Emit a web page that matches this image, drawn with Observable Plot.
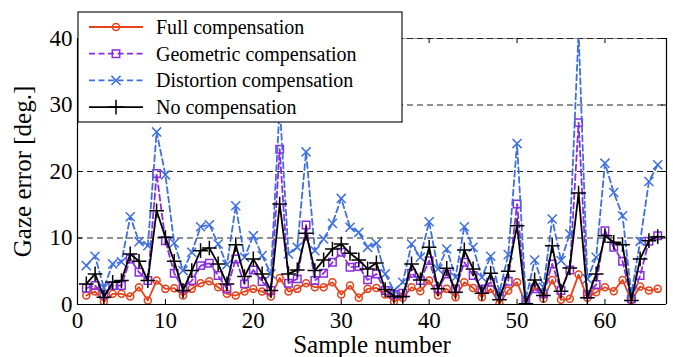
<!DOCTYPE html>
<html><head><meta charset="utf-8">
<script src="https://cdn.jsdelivr.net/npm/d3@7"></script>
<script src="https://cdn.jsdelivr.net/npm/@observablehq/plot@0.6"></script>
<style>
body{margin:0;background:#fff;}
#chart{position:relative;width:673px;height:357px;}
#chart svg text{font-family:"Liberation Serif","Times New Roman",serif;}
</style>
</head><body><div id="chart"></div>
<script>
const samples = d3.range(1, 67);
const full = [1.35,1.95,0.45,1.6,1.6,1.2,2.6,0.6,3.6,2.35,2.45,1.35,2.35,3.2,3.5,2.6,1.6,1.35,1.95,2.35,1.95,1.2,4.0,1.95,2.35,3.2,2.6,2.6,3.35,1.5,2.85,1.0,2.35,2.5,1.5,0.45,1.0,2.6,2.0,3.6,1.35,2.35,1.1,3.35,2.5,1.1,2.35,0.1,2.1,3.35,0.1,2.7,0.85,3.7,0.7,0.85,4.5,1.0,1.85,2.6,2.0,3.7,0.6,2.7,2.1,2.35];
const geometric = [2.45,2.85,1.5,2.85,2.85,6.85,4.85,3.6,19.7,9.6,4.7,2.45,3.6,5.85,6.2,4.35,2.35,6.85,3.1,5.2,3.45,2.1,23.35,3.2,3.85,11.95,3.6,4.7,6.35,7.85,5.6,5.7,3.7,4.6,2.1,1.5,1.7,4.7,3.6,6.6,2.35,4.6,2.35,6.35,4.35,2.35,3.35,1.35,3.5,15.1,0.6,2.35,1.6,6.1,2.1,5.2,27.35,1.5,3.0,11.1,8.6,6.5,0.85,4.35,9.5,10.35];
const distortion = [5.85,7.25,2.5,6.1,6.4,13.2,9.45,8.85,25.95,19.5,9.25,5.1,7.85,11.7,12.0,9.1,6.0,14.85,7.1,10.35,7.35,4.6,30,7.6,8.6,22.95,8.1,9.85,12.2,15.95,11.6,10.85,8.6,9.2,4.6,2.1,3.35,9.1,7.1,12.45,5.35,8.35,4.1,11.7,8.6,4.1,7.25,1.85,7.5,24.2,0.8,6.7,2.6,12.85,6.6,10.6,41,3.85,7.1,21.25,16.85,13.35,1.6,9.5,18.5,21.0];
const noComp = [3.1,4.6,1.1,3.35,3.6,7.6,6.5,3.6,14.1,10.1,6.5,2.1,5.1,8.1,8.5,6.1,3.1,9.0,4.2,6.85,4.6,2.1,15.1,4.6,5.2,10.7,5.1,6.7,8.35,9.1,7.7,6.7,5.35,6.25,2.25,1.2,1.2,6.1,3.7,8.6,2.35,5.45,1.85,8.2,5.35,1.7,4.7,0.7,5.0,11.85,0.1,3.7,1.35,8.85,2.0,5.5,16.75,1.0,4.6,10.35,9.35,9.0,0.6,6.85,9.6,10.2];
const xTicks = [0, 10, 20, 30, 40, 50, 60];
const yTicks = [0, 10, 20, 30, 40];
const gridValues = [10, 20, 30, 40];
const seriesNames = ["Full compensation", "Geometric compensation", "Distortion compensation", "No compensation"];
const seriesColors = ["#e6421b", "#8a2de0", "#3d6fe3", "#000000"];
const seriesSymbols = ["circle", "square", "times", "plus"];
const seriesDash = [null, "6,3.5", "6,3.5", null];
const xDomain = [0, 67];
const yDomain = [0, 40];

const data = samples.map((s, i) => ({s, full: full[i], geometric: geometric[i], distortion: distortion[i], none: noComp[i]}));
const keys = ["full", "geometric", "distortion", "none"];
const symR = [3.5, 4.2, 4.2, 4.8];

const W = 673, H = 357, mL = 77, mR = 7, mT = 38, mB = 53;
const tkY = 5 * (yDomain[1] - yDomain[0]) / (H - mT - mB);
const tkX = 5 * (xDomain[1] - xDomain[0]) / (W - mL - mR);
const font = "Liberation Serif, Times New Roman, serif";

const marks = [
  Plot.ruleY([40], {stroke: "#999", strokeWidth: 1}),
  Plot.ruleY(gridValues, {stroke: "#222", strokeWidth: 1, strokeDasharray: "6,4"}),
];
keys.forEach((k, j) => {
  marks.push(Plot.line(data, {x: "s", y: k, stroke: seriesColors[j], strokeWidth: 1.8, strokeDasharray: seriesDash[j], clip: true}));
  marks.push(Plot.dot(data, {x: "s", y: k, symbol: seriesSymbols[j], r: symR[j], stroke: seriesColors[j], strokeWidth: 1.5, fill: "none", clip: true}));
});
marks.push(
  Plot.ruleX([xDomain[0], xDomain[1]], {stroke: "#000", strokeWidth: 1.2}),
  Plot.ruleY([0], {stroke: "#000", strokeWidth: 1.2}),
  Plot.ruleX(xTicks, {x: d => d, y1: 0, y2: tkY, stroke: "#000"}),
  Plot.ruleX(xTicks, {x: d => d, y1: 40, y2: 40 - tkY, stroke: "#000"}),
  Plot.ruleY(yTicks, {y: d => d, x1: 0, x2: tkX, stroke: "#000"}),
  Plot.ruleY(yTicks, {y: d => d, x1: 67, x2: 67 - tkX, stroke: "#000"}),
  Plot.text(xTicks, {x: d => d, frameAnchor: "bottom", lineAnchor: "middle", dy: 16, fontSize: 23, fill: "#000", fontFamily: font}),
  Plot.text(yTicks, {y: d => d, frameAnchor: "left", dx: -5, textAnchor: "end", fontSize: 23, fill: "#000", fontFamily: font}),
  Plot.text(["Sample number"], {frameAnchor: "bottom", lineAnchor: "middle", dy: 40, fontSize: 25, fill: "#000", fontFamily: font}),
  Plot.text(["Gaze error [deg.]"], {frameAnchor: "left", textAnchor: "middle", rotate: -90, dx: -55, fontSize: 25, fill: "#000", fontFamily: font})
);

const chart = Plot.plot({
  width: W, height: H,
  marginLeft: mL, marginRight: mR, marginTop: mT, marginBottom: mB,
  x: {domain: xDomain, axis: null},
  y: {domain: yDomain, axis: null},
  style: {background: "#fff", overflow: "visible"},
  marks
});
chart.setAttribute("font-family", font);

// legend drawn into the svg (overlapping the plot as in the reference)
const svg = d3.select(chart);
const lg = svg.append("g").attr("text-anchor", "start");
lg.append("rect").attr("x", 78).attr("y", 12).attr("width", 324).attr("height", 110)
  .attr("fill", "#fff").attr("stroke", "#000").attr("stroke-width", 1.1);
const symMap = {circle: d3.symbolCircle, square: d3.symbolSquare, times: d3.symbolTimes, plus: d3.symbolPlus};
seriesNames.forEach((name, j) => {
  const cy = 27 + 26.7 * j;
  const ln = lg.append("line").attr("x1", 89).attr("x2", 143).attr("y1", cy).attr("y2", cy)
    .attr("stroke", seriesColors[j]).attr("stroke-width", 1.8);
  if (seriesDash[j]) ln.attr("stroke-dasharray", seriesDash[j]);
  lg.append("path").attr("transform", `translate(116,${cy})`)
    .attr("d", d3.symbol(symMap[seriesSymbols[j]], symR[j] * symR[j] * Math.PI)())
    .attr("fill", "none").attr("stroke", seriesColors[j]).attr("stroke-width", 1.5);
  lg.append("text").attr("x", 156).attr("y", cy).attr("dy", "0.35em").attr("text-anchor", "start")
    .attr("font-size", 20).attr("fill", "#000").text(name);
});

document.getElementById("chart").appendChild(chart);
</script>
</body></html>
